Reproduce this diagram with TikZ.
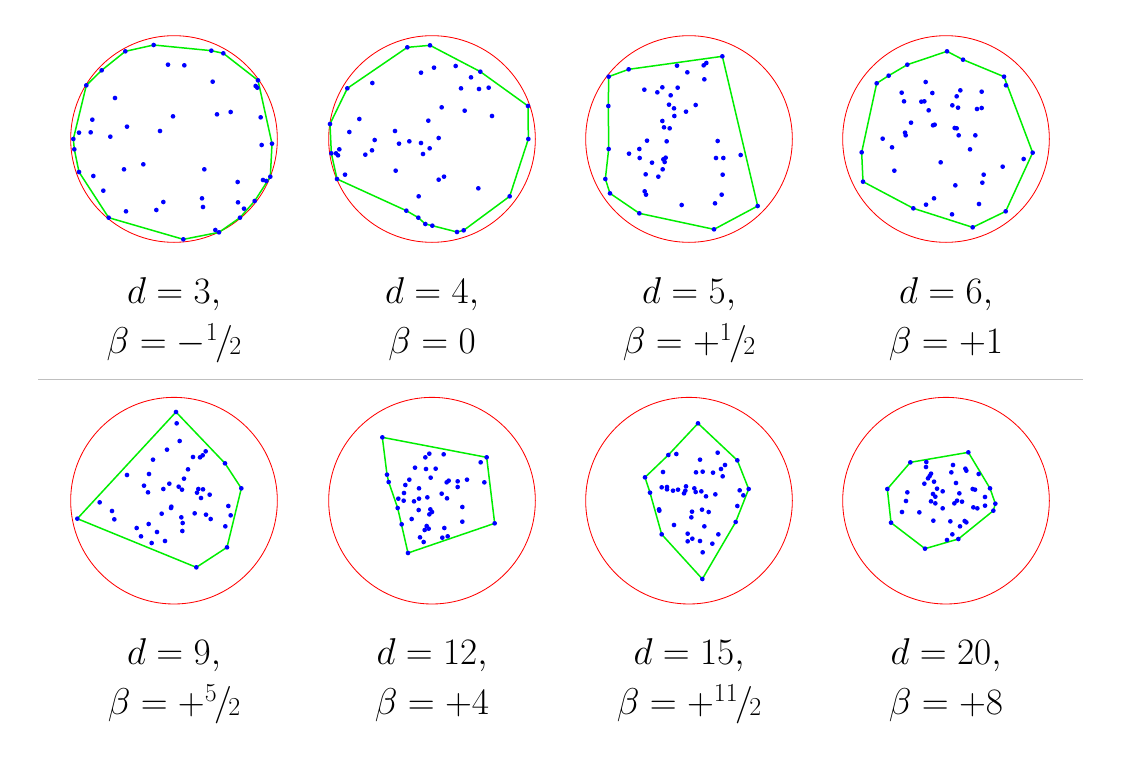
\documentclass[tikz,border=0pt]{standalone}
\usepackage{tikz}
\usetikzlibrary{positioning}
\definecolor{HullGreen}{HTML}{00EE00}
\definecolor{DotBlue}{HTML}{0000FF}
\definecolor{RingRed}{HTML}{FF0000}
\newcommand{\slfrac}[2]{\raisebox{0.8ex}{$\scriptscriptstyle #1$}\kern-0.08em/\kern-0.1em\raisebox{-0.1ex}{$\scriptscriptstyle #2$}}
\newcommand{\putdots}[1]{\foreach \p in {#1} \fill[dot] \p circle[radius=7];}

\begin{document}
\begin{tikzpicture}[x=0.3mm, y=-0.3mm,
    ring/.style={RingRed, line width=0.25mm},
    hull/.style={HullGreen, line width=0.45mm, line join=round},
    dot/.style={DotBlue},
    lab/.style={anchor=base, font=\Huge, scale=1.28, transform shape}]
    \useasboundingbox (0,0) rectangle (1121,773);

    % d = 3
    \begin{scope}[shift={(64,30)}, scale=1/3]
    \draw[ring] (330,327) circle[radius=310];
    \draw[hull] (269,45) -- (442,62) -- (478,70) -- (582,151) -- (624,341) -- (619,440) -- (572,513) -- (528,563) -- (465,607) -- (358,628) -- (134,563) -- (45,426) -- (31,358) -- (28,327) -- (67,166) -- (113,121) -- (184,64) -- cycle;
    \putdots{(269,45),(442,62),(478,70),(582,151),(624,341),(619,440),(572,513),(528,563),(465,607),(358,628),(134,563),(45,426),(31,358),(28,327),(67,166),(113,121),(184,64),
      (312,104),(361,106),(446,155),(575,168),(580,173),(153,204),(459,253),(500,246),(327,259),(590,262),(85,269),(189,290),(45,308),(80,307),(139,320),(288,303),(593,345),(238,403),(180,418),(421,418),(88,438),(597,450),(607,453),(521,456),(118,482),(414,505),(298,516),(522,517),(417,531),(277,540),(186,544),(540,536),(454,600)}
    \end{scope}

    % d = 4
    \begin{scope}[shift={(322,30)}, scale=1/3]
    \draw[ring] (330,327) circle[radius=310];
    \draw[hull] (256,52) -- (324,46) -- (475,125) -- (618,228) -- (619,327) -- (563,499) -- (425,601) -- (405,606) -- (331,587) -- (310,582) -- (289,563) -- (253,542) -- (45,447) -- (28,370) -- (24,282) -- (76,175) -- cycle;
    \putdots{(256,52),(324,46),(475,125),(618,228),(619,327),(563,499),(425,601),(405,606),(331,587),(310,582),(289,563),(253,542),(45,447),(28,370),(24,282),(76,175),
      (297,128),(336,113),(401,108),(447,142),(417,175),(471,177),(500,173),(151,159),(359,232),(428,242),(510,258),(112,267),(319,272),(82,306),(219,303),(158,330),(262,334),(297,339),(350,324),(231,341),(323,355),(303,372),(150,361),(130,374),(52,358),(42,370),(48,376),(69,434),(221,422),(350,449),(366,440),(469,475),(290,499)}
    \end{scope}

    % d = 5
    \begin{scope}[shift={(579,30)}, scale=1/3]
    \draw[ring] (330,327) circle[radius=310];
    \draw[hull] (89,140) -- (149,118) -- (430,79) -- (536,528) -- (405,598) -- (181,550) -- (93,490) -- (79,447) -- (89,357) -- (88,228) -- cycle;
    \putdots{(89,140),(149,118),(430,79),(536,528),(405,598),(181,550),(93,490),(79,447),(89,357),(88,228),
      (294,107),(374,106),(382,99),(325,127),(376,148),(196,179),(250,172),(235,187),(296,173),(275,196),(270,224),(285,235),(350,225),(321,245),(286,258),(250,273),(255,292),(272,295),(204,332),(263,334),(416,333),(181,357),(150,371),(182,384),(260,383),(253,388),(257,396),(219,398),(411,384),(433,384),(485,375),(251,418),(200,433),(238,440),(431,434),(197,484),(201,494),(428,494),(408,520),(308,525)}
    \end{scope}

    % d = 6
    \begin{scope}[shift={(836,30)}, scale=1/3]
    \draw[ring] (330,327) circle[radius=310];
    \draw[hull] (333,64) -- (381,89) -- (504,140) -- (590,368) -- (509,544) -- (410,592) -- (232,535) -- (81,455) -- (77,367) -- (122,160) -- (158,137) -- (214,104) -- cycle;
    \putdots{(333,64),(381,89),(504,140),(590,368),(509,544),(410,592),(232,535),(81,455),(77,367),(122,160),(158,137),(214,104),
      (510,166),(269,156),(197,188),(289,189),(373,181),(437,185),(204,214),(256,215),(265,214),(362,199),(349,226),(366,233),(423,237),(437,234),(278,241),(225,278),(291,286),(296,284),(356,294),(362,295),(207,308),(209,316),(140,326),(368,316),(418,316),(168,352),(402,358),(563,387),(314,397),(500,410),(175,422),(443,434),(439,458),(358,466),(294,505),(270,524),(429,522),(348,553)}
    \end{scope}

    % d = 9
    \begin{scope}[shift={(64,392)}, scale=1/3]
    \draw[ring] (330,326) circle[radius=310];
    \draw[hull] (336,60) -- (483,214) -- (532,289) -- (489,466) -- (397,526) -- (40,380) -- cycle;
    \putdots{(336,60),(483,214),(532,289),(489,466),(397,526),(40,380),
      (338,94),(347,147),(309,173),(267,203),(387,195),(408,196),(416,190),(425,178),(189,249),(255,246),(372,232),(240,281),(316,275),(360,260),(298,291),(344,284),(354,293),(252,301),(403,291),(417,292),(399,302),(411,318),(437,308),(107,331),(144,357),(151,382),(322,344),(321,348),(293,365),(352,376),(392,364),(426,368),(440,381),(493,342),(500,370),(356,393),(484,403),(218,408),(254,396),(279,420),(355,417),(231,433),(263,453),(303,447)}
    \end{scope}

    % d = 12
    \begin{scope}[shift={(322,392)}, scale=1/3]
    \draw[ring] (330,326) circle[radius=310];
    \draw[hull] (181,136) -- (494,196) -- (518,394) -- (258,483) -- (227,348) -- (200,270) -- (195,248) -- cycle;
    \putdots{(181,136),(494,196),(518,394),(258,483),(239,397),(227,348),(200,270),(195,248),
      (310,196),(322,185),(365,187),(476,211),(279,227),(312,231),(341,230),(326,257),(262,263),(250,279),(374,271),(380,266),(407,268),(435,263),(487,271),(407,285),(291,289),(246,303),(229,320),(245,326),(276,328),(291,320),(316,316),(359,305),(375,319),(421,345),(290,354),(325,352),(330,360),(322,367),(269,381),(421,389),(314,402),(320,410),(308,414),(367,408),(294,436),(361,437),(377,433),(305,450)}
    \end{scope}

    % d = 15
    \begin{scope}[shift={(579,392)}, scale=1/3]
    \draw[ring] (330,326) circle[radius=310];
    \draw[hull] (357,94) -- (475,205) -- (509,291) -- (470,390) -- (370,561) -- (248,427) -- (213,302) -- (198,256) -- (268,189) -- cycle;
    \putdots{(357,94),(475,205),(509,291),(470,390),(370,561),(248,427),(213,302),(198,256),(268,189),
      (292,186),(416,182),(363,203),(438,219),(426,231),(252,240),(351,241),(371,239),(402,242),(431,253),(248,286),(264,285),(264,292),(282,296),(297,293),(321,283),(315,304),(319,296),(346,289),(350,300),(367,298),(381,313),(409,307),(482,295),(493,310),(240,352),(241,356),(339,359),(369,353),(389,360),(337,376),(475,342),(285,399),(376,403),(326,425),(340,440),(326,448),(363,447),(418,427),(400,455),(371,481)}
    \end{scope}

    % d = 20
    \begin{scope}[shift={(836,392)}, scale=1/3]
    \draw[ring] (330,326) circle[radius=310];
    \draw[hull] (223,211) -- (397,181) -- (462,289) -- (478,335) -- (472,356) -- (367,441) -- (267,470) -- (165,392) -- (154,291) -- cycle;
    \putdots{(223,211),(397,181),(462,289),(478,335),(472,356),(367,441),(267,470),(165,392),(154,291),
      (271,210),(270,225),(285,245),(281,252),(276,259),(265,275),(294,269),(351,219),(346,241),(388,230),(391,236),(428,246),(360,273),(410,291),(417,293),(303,290),(320,298),(214,301),(291,306),(298,314),(370,304),(447,315),(210,327),(285,328),(298,334),(355,334),(363,326),(378,329),(412,346),(424,349),(447,341),(198,360),(250,361),(320,349),(292,386),(343,388),(386,387),(391,391),(372,403),(349,427),(333,444)}
    \end{scope}

    % labels
    \node[lab] (d3)  at (174,303) {$d=3,$};
    \node[lab] (b3)  at (174,353) {$\beta=-\slfrac{1}{2}$};
    \node[lab] (d4)  at (432,303) {$d=4,$};
    \node[lab] (b4)  at (432,353) {$\beta=0$};
    \node[lab] (d5)  at (689,303) {$d=5,$};
    \node[lab] (b5)  at (689,353) {$\beta=+\slfrac{1}{2}$};
    \node[lab] (d6)  at (946,303) {$d=6,$};
    \node[lab] (b6)  at (946,353) {$\beta=+1$};
    \node[lab] (d9)  at (174,664) {$d=9,$};
    \node[lab] (b9)  at (174,714) {$\beta=+\slfrac{5}{2}$};
    \node[lab] (d12) at (432,664) {$d=12,$};
    \node[lab] (b12) at (432,714) {$\beta=+4$};
    \node[lab] (d15) at (689,664) {$d=15,$};
    \node[lab] (b15) at (689,714) {$\beta=+\slfrac{11}{2}$};
    \node[lab] (d20) at (946,664) {$d=20,$};
    \node[lab] (b20) at (946,714) {$\beta=+8$};

    % divider
    \draw[gray!50, line width=0.3mm] (38,379) -- (1083,379);
\end{tikzpicture}
\end{document}
